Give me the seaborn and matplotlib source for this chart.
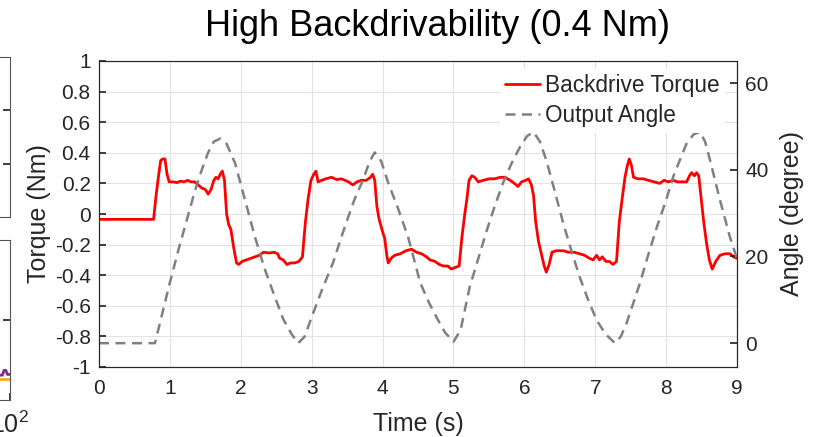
import numpy as np
import pandas as pd
import matplotlib
matplotlib.use("Agg")
import matplotlib.pyplot as plt
from matplotlib.lines import Line2D
from matplotlib.ticker import FixedLocator, FuncFormatter
import seaborn as sns

# ---------------- data ----------------
torque_t = [0, 0.77, 0.80, 0.84, 0.87, 0.90, 0.93, 0.96, 0.99,
            1.05, 1.10, 1.15, 1.20, 1.25, 1.30, 1.35, 1.40, 1.45, 1.50, 1.54, 1.58, 1.62, 1.65, 1.68, 1.71, 1.74, 1.77,
            1.80, 1.83, 1.86, 1.90, 1.94, 1.97,
            2.02, 2.08, 2.14, 2.20, 2.26, 2.32, 2.40, 2.47, 2.52, 2.55, 2.60, 2.65, 2.70, 2.76, 2.82, 2.87,
            2.91, 2.95, 2.99, 3.03, 3.06, 3.09, 3.14, 3.20, 3.28, 3.35, 3.42, 3.52, 3.58, 3.64, 3.70, 3.77, 3.83, 3.86, 3.89,
            3.92, 3.95, 3.99, 4.03, 4.06, 4.08, 4.12, 4.17, 4.25, 4.33, 4.41, 4.48, 4.55, 4.62, 4.67, 4.74, 4.80, 4.86, 4.92, 4.97, 5.02, 5.08,
            5.12, 5.16, 5.19, 5.22, 5.26, 5.30, 5.35, 5.42, 5.50, 5.58, 5.66, 5.73, 5.80, 5.86, 5.91, 5.96, 6.02, 6.06, 6.10,
            6.13, 6.16, 6.20, 6.24, 6.28, 6.31, 6.35, 6.39, 6.45, 6.55, 6.62, 6.70, 6.78, 6.85, 6.92, 6.97, 7.02, 7.06, 7.10, 7.15, 7.20, 7.25, 7.30,
            7.34, 7.38, 7.42, 7.45, 7.48, 7.51, 7.54, 7.60, 7.68, 7.75, 7.83, 7.91, 7.97, 8.03, 8.10, 8.16, 8.22, 8.29, 8.33, 8.36, 8.40, 8.43, 8.46,
            8.50, 8.53, 8.57, 8.61, 8.65, 8.70, 8.76, 8.83, 8.90, 8.95, 9.0]
torque_v = [-0.035, -0.035, 0.10, 0.25, 0.35, 0.36, 0.36, 0.26, 0.21,
            0.21, 0.205, 0.215, 0.21, 0.22, 0.21, 0.21, 0.19, 0.17, 0.16, 0.13, 0.16, 0.22, 0.24, 0.23, 0.26, 0.28, 0.22,
            0.0, -0.07, -0.10, -0.22, -0.32, -0.33,
            -0.31, -0.30, -0.29, -0.28, -0.27, -0.25, -0.255, -0.25, -0.26, -0.29, -0.30, -0.33, -0.32, -0.32, -0.31, -0.28,
            -0.06, 0.10, 0.22, 0.26, 0.28, 0.21, 0.22, 0.23, 0.24, 0.225, 0.23, 0.21, 0.19, 0.21, 0.22, 0.22, 0.24, 0.26, 0.22,
            0.05, -0.03, -0.10, -0.16, -0.27, -0.32, -0.29, -0.27, -0.26, -0.24, -0.23, -0.25, -0.26, -0.28, -0.30, -0.31, -0.33, -0.34, -0.34, -0.36, -0.35, -0.34,
            -0.15, 0.0, 0.10, 0.22, 0.25, 0.24, 0.21, 0.22, 0.23, 0.23, 0.24, 0.24, 0.22, 0.20, 0.18, 0.21, 0.22, 0.23, 0.19,
            0.12, -0.05, -0.18, -0.26, -0.34, -0.38, -0.33, -0.25, -0.24, -0.24, -0.25, -0.25, -0.26, -0.27, -0.29, -0.30, -0.27, -0.30, -0.28, -0.31, -0.31, -0.33, -0.31,
            -0.05, 0.10, 0.24, 0.31, 0.36, 0.32, 0.24, 0.23, 0.23, 0.22, 0.21, 0.20, 0.22, 0.21, 0.22, 0.21, 0.21, 0.21, 0.25, 0.27, 0.25, 0.27, 0.25,
            0.08, -0.05, -0.19, -0.30, -0.36, -0.31, -0.27, -0.26, -0.26, -0.28, -0.29]

angle_t = [0, 0.79, 0.88, 1.00, 1.12, 1.24, 1.35, 1.45, 1.54, 1.62, 1.71, 1.80, 1.92, 2.06, 2.20, 2.34, 2.48, 2.60, 2.72, 2.81,
           2.90, 3.00, 3.15, 3.30, 3.45, 3.60, 3.72, 3.82, 3.89, 3.98, 4.08, 4.22, 4.36, 4.45, 4.53, 4.65, 4.76, 4.88, 5.00,
           5.10, 5.23, 5.35, 5.47, 5.58, 5.70, 5.82, 5.94, 6.04, 6.13, 6.22, 6.31, 6.43, 6.55, 6.67, 6.78, 6.90, 7.02, 7.15, 7.28,
           7.36, 7.44, 7.63, 7.75, 7.87, 8.00, 8.10, 8.20, 8.29, 8.39, 8.48, 8.55, 8.62, 8.76, 8.90, 9.00]
angle_v = [0, 0, 6, 14, 21.5, 28.5, 35, 40, 44, 46.5, 47.2, 46, 41.5, 33, 24.5, 17, 10.7, 5.5, 2, 0,
           1.5, 6, 12.5, 18.5, 26, 33, 37.5, 42, 44, 42, 37, 31, 24.5, 19, 14, 9.5, 6, 2.5, 0.3,
           3, 13, 19.5, 26, 31.5, 37, 41.5, 45.3, 47.8, 48.7, 46.5, 42.2, 35, 27.6, 21, 15.3, 10, 5.3, 2, 0,
           1.5, 4.5, 13.8, 20.5, 26.8, 33, 38.4, 42.5, 46.1, 48.2, 48.7, 46.5, 42.2, 33, 24.5, 19.5]

torque_ticks = [-1, -0.8, -0.6, -0.4, -0.2, 0, 0.2, 0.4, 0.6, 0.8, 1]
angle_ticks = [0, 20, 40, 60]
time_ticks = list(range(0, 10))

# remnants of the neighbouring (cropped) panel at the left edge
side_x = [60, 85, 88, 92, 95, 100]
side_purple = [0.31, 0.31, 0.37, 0.37, 0.32, 0.32]
side_orange = [0.26, 0.26, 0.26, 0.26, 0.26, 0.26]

df_t = pd.DataFrame({"Time": torque_t, "Torque": torque_v})
df_a = pd.DataFrame({"Time": angle_t, "Angle": angle_v})

# ---------------- style ----------------
sns.set_theme(style="white")
plt.rcParams["font.family"] = ["Liberation Sans", "DejaVu Sans"]
plt.rcParams["axes.unicode_minus"] = False

W, H = 815, 437
fig = plt.figure(figsize=(W / 100, H / 100), dpi=100)

spine_c = "#262626"
grid_c = "#e3e3e3"
fs_tick = 15
fs_lab = 18

def px_rect(x0, y0, x1, y1):
    return [x0 / W, 1 - y1 / H, (x1 - x0) / W, (y1 - y0) / H]

# ---------- left cropped panels ----------
for (y0, y1, nt, logx) in [(57, 217, 3, False), (240, 400, 2, True)]:
    a = fig.add_axes(px_rect(9.5 - 200, y0, 9.5, y1))
    a.set_ylim(0, nt)
    a.yaxis.set_major_locator(FixedLocator(list(range(1, nt))))
    a.tick_params(direction="in", length=5, colors=spine_c, labelsize=18,
                  left=False, right=True, labelleft=False)
    for s in a.spines.values():
        s.set_color("#555555")
        s.set_linewidth(0.8)
    if logx:
        a.set_xscale("log")
        a.set_xlim(1, 100)
        sns.lineplot(x=side_x, y=side_orange, ax=a, color="#EDB120", linewidth=2, estimator=None)
        sns.lineplot(x=side_x, y=side_purple, ax=a, color="#7E2F8E", linewidth=2, estimator=None)
        a.xaxis.set_major_locator(FixedLocator([100]))
        a.xaxis.set_minor_locator(FixedLocator([]))
        a.tick_params(axis="x", bottom=True, labelbottom=True, pad=8, labelcolor="#262626")
    else:
        a.set_xlim(0, 1)
        a.set_xticks([])

# ---------- main axes ----------
ax = fig.add_axes(px_rect(99, 61, 737, 367))
sns.lineplot(data=df_t, x="Time", y="Torque", ax=ax, color="#ff0000", linewidth=2.0, estimator=None)
ax.set_xlim(0, 9)
ax.set_ylim(-1, 1)
ax.xaxis.set_major_locator(FixedLocator(time_ticks))
ax.yaxis.set_major_locator(FixedLocator(torque_ticks))
ax.yaxis.set_major_formatter(FuncFormatter(lambda v, p: f"{v:g}"))
ax.grid(True, color=grid_c, linewidth=0.8)
ax.set_axisbelow(True)
ax.tick_params(direction="in", length=5, colors=spine_c, labelsize=fs_tick)
ax.tick_params(axis="y", pad=6)
ax.tick_params(axis="x", pad=9)
ax.set_xlabel("Time (s)", fontsize=fs_lab, color=spine_c)
ax.set_ylabel("Torque (Nm)", fontsize=fs_lab, color=spine_c)
ax.yaxis.set_label_coords(-0.075, 0.5)
ax.xaxis.set_label_coords(0.5, -0.147)

ax2 = ax.twinx()
sns.lineplot(data=df_a, x="Time", y="Angle", ax=ax2, color="#808080", linewidth=1.8, estimator=None)
ax2.lines[0].set_linestyle((0, (4, 2.6)))
ax2.set_ylim(-5.5, 65.1)
ax2.yaxis.set_major_locator(FixedLocator(angle_ticks))
ax2.yaxis.set_major_formatter(FuncFormatter(lambda v, p: f"{v:g}"))
ax2.tick_params(direction="in", length=5, colors=spine_c, labelsize=fs_tick, pad=6)
ax2.set_ylabel("Angle (degree)", fontsize=fs_lab, color=spine_c)
ax2.yaxis.set_label_coords(1.068, 0.5)
ax2.grid(False)

for a in (ax, ax2):
    for s in a.spines.values():
        s.set_color(spine_c)
        s.set_linewidth(0.8)

handles = [Line2D([], [], color="#ff0000", linewidth=2.0),
           Line2D([], [], color="#808080", linewidth=1.8, linestyle=(0, (4, 2.6)))]
leg = ax2.legend(handles, ["Backdrive Torque", "Output Angle"], loc="upper right",
                 bbox_to_anchor=(0.992, 0.997),
                 fontsize=16.3, frameon=True, facecolor="white", edgecolor="none",
                 framealpha=1, handlelength=1.55, handletextpad=0.2, labelspacing=0.3,
                 borderpad=0.25, borderaxespad=0.3, fancybox=False)

fig.text(437.5 / W, 1 - 36 / H, "High Backdrivability (0.4 Nm)", fontsize=26,
         ha="center", va="baseline", color="black")

fig.savefig("out.png", dpi=100)
